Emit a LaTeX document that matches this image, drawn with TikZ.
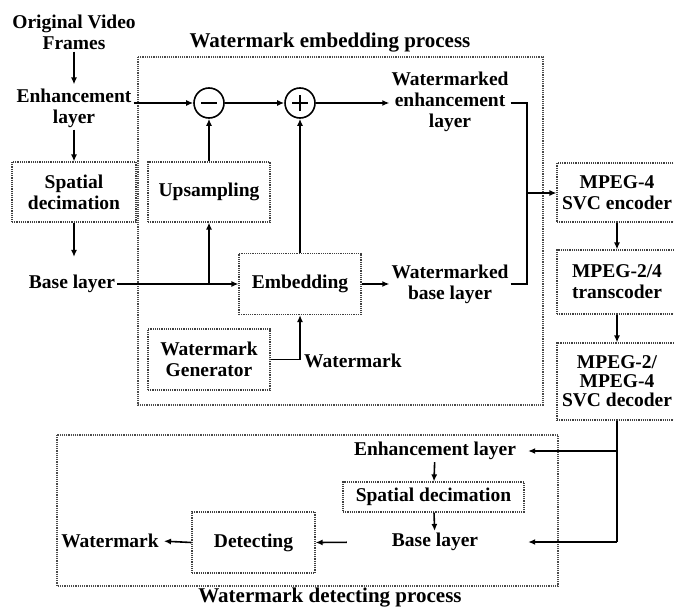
\documentclass[tikz,border=0pt]{standalone}
\usepackage{fontspec}
\setmainfont{Liberation Serif}
\usetikzlibrary{arrows.meta}
\begin{document}
\begin{tikzpicture}[x=1pt,y=1pt,
  every node/.style={font=\fontsize{19.5}{21}\selectfont\bfseries, inner sep=2pt, align=center},
  ttl/.style={font=\fontsize{21}{23}\selectfont\bfseries},
  blk/.style={draw=black!75, densely dotted, line width=1.2pt, inner sep=1pt},
  frame/.style={draw=black!70, densely dotted, line width=1.2pt},
  sumc/.style={draw, circle, line width=1.6pt, minimum size=30pt, inner sep=0pt},
  ln/.style={line width=1.6pt},
  conn/.style={line width=1.6pt, -{Latex[length=7pt,width=6pt]}}
]
\useasboundingbox (0,0) rectangle (674,-610);

% frames
\draw[frame] (138,-57) rectangle (543,-405);
\draw[frame] (57,-435) rectangle (558,-586);
\node[ttl] (t1) at (330,-43) {Watermark embedding process};
\node[ttl] (t2) at (330,-598) {Watermark detecting process};

% left column
\node (ovf) at (74,-32) {Original Video\\Frames};
\node (enh) at (74,-108) {Enhancement\\layer};
\node[blk, minimum width=124pt, minimum height=60pt] (sd1) at (74,-192) {Spatial\\decimation};
\node (base) at (72,-284) {Base layer};

% embedding
\node[sumc] (minus) at (209,-103) {};
\node[sumc] (plus) at (300,-103) {};
\draw[ln] ([xshift=-8pt]minus.center) -- ([xshift=8pt]minus.center);
\draw[ln] ([xshift=-8pt]plus.center) -- ([xshift=8pt]plus.center);
\draw[ln] ([yshift=-8pt]plus.center) -- ([yshift=8pt]plus.center);
\node[blk, minimum width=122pt, minimum height=60pt] (ups) at (209,-192) {Upsampling};
\node[blk, minimum width=122pt, minimum height=61pt] (emb) at (300,-284) {Embedding};
\node[blk, minimum width=122pt, minimum height=61pt] (gen) at (209,-359.5) {Watermark\\Generator};
\node[anchor=west] (wm1) at (302,-361) {Watermark};
\node (wel) at (450,-102) {Watermarked\\enhancement\\layer};
\node (wbl) at (450,-284) {Watermarked\\base layer};

% right column
\node[blk, minimum width=120pt, minimum height=59pt] (enc) at (617,-192.5) {MPEG-4\\SVC encoder};
\node[blk, minimum width=120pt, minimum height=64pt] (trans) at (617,-282) {MPEG-2/4\\transcoder};
\node[blk, minimum width=120pt, minimum height=77pt] (dec) at (617,-381.5) {MPEG-2/\\[-2pt]MPEG-4\\[-2pt]SVC decoder};

% detecting
\node (el2) at (435,-451) {Enhancement layer};
\node[blk, minimum width=181pt, minimum height=30pt] (sd2) at (433.5,-497) {Spatial decimation};
\node (bl2) at (435,-542) {Base layer};
\node[blk, minimum width=123pt, minimum height=61pt] (det) at (253.5,-542.5) {Detecting};
\node (wm2) at (110,-541) {Watermark};

\coordinate (jx) at (527,-193);
\coordinate (jd) at (617,-451);
\coordinate (jb) at (617,-542);

% connectors
\draw[conn, shorten >=2pt] (ovf.south) -- (ovf.south |- enh.north);
\draw[conn] (enh.south) -- (enh.south |- sd1.north);
\draw[conn, shorten >=16pt] (sd1.south) -- (sd1.south |- base.north);
\draw[conn] (enh.east |- minus) -- (minus.west);
\draw[conn] (minus) -- (plus);
\draw[conn] (plus.east) -- (plus.east -| wel.west);
\draw[conn] (base.east) -- (emb.west);
\draw[conn] (ups.south |- base) -- (ups.south);
\draw[conn] (ups) -- (minus);
\draw[conn] (emb) -- (plus);
\draw[conn] (emb.east) -- (wbl.west);
\draw[conn] (gen.east) -| (emb.south);
\draw[ln] (wel.east |- plus) -| (jx);
\draw[ln] (wbl.east) -| (jx);
\draw[conn] (jx) -- (jx -| enc.west);
\draw[conn] (enc) -- (trans);
\draw[conn] (trans) -- (dec);
\draw[ln] (dec.south) -- (jb);
\draw[conn, shorten >=10pt] (jd) -- (jd -| el2.east);
\draw[conn, shorten >=10pt] (jb) -- (jb -| el2.east);
\draw[conn] (el2) -- (sd2);
\draw[conn] (sd2) -- (bl2);
\draw[conn, shorten <=43pt] (bl2.west) -- (det.east);
\draw[conn, shorten >=3pt] (det.west) -- (wm2.east);
\end{tikzpicture}
\end{document}
